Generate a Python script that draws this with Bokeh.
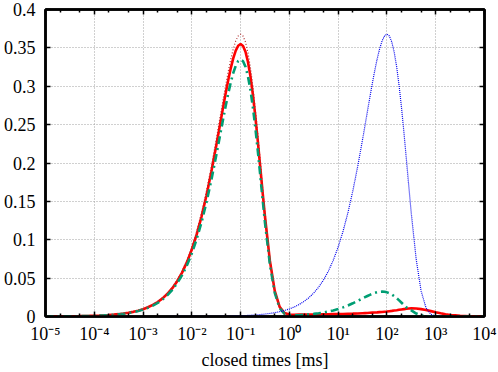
from bokeh.plotting import figure
from bokeh.models import FixedTicker, LogAxis, LinearAxis, ColumnDataSource, Range1d
from bokeh.embed import file_html
from bokeh.resources import INLINE

# log10 of closed time [ms], sampled every 0.1 decade
log_t = [round(-5.0 + 0.1 * i, 1) for i in range(91)]

# thin dotted dark red: fast component (tau ~ 0.1 ms)
dotted_fast = [
    0.00010, 0.00013, 0.00016, 0.00020, 0.00025, 0.00032, 0.00040, 0.00050, 0.00063, 0.00079,
    0.00100, 0.00126, 0.00158, 0.00199, 0.00251, 0.00315, 0.00397, 0.00499, 0.00627, 0.00788,
    0.00990, 0.01243, 0.01560, 0.01956, 0.02450, 0.03064, 0.03826, 0.04767, 0.05924, 0.07337,
    0.09048, 0.11100, 0.13525, 0.16343, 0.19540, 0.23050, 0.26737, 0.30362, 0.33573, 0.35896,
    0.36788, 0.35754, 0.32490, 0.27136, 0.20382, 0.13383, 0.07429, 0.03335, 0.01148, 0.00282,
    0.00045, 0.00004, 0.0, 0.0, 0.0, 0.0, 0.0, 0.0, 0.0, 0.0,
    0.0, 0.0, 0.0, 0.0, 0.0, 0.0, 0.0, 0.0, 0.0, 0.0,
    0.0, 0.0, 0.0, 0.0, 0.0, 0.0, 0.0, 0.0, 0.0, 0.0,
    0.0, 0.0, 0.0, 0.0, 0.0, 0.0, 0.0, 0.0, 0.0, 0.0,
    0.0,
]

# thin dotted blue: slow component (tau ~ 100 ms)
dotted_slow = [
    0.0, 0.0, 0.0, 0.0, 0.0, 0.0, 0.0, 0.0, 0.0, 0.0,
    0.0, 0.0, 0.0, 0.0, 0.0, 0.0, 0.0, 0.0, 0.0, 0.0,
    0.00001, 0.00001, 0.00002, 0.00002, 0.00003, 0.00003, 0.00004, 0.00005, 0.00006, 0.00008,
    0.00010, 0.00013, 0.00016, 0.00020, 0.00025, 0.00032, 0.00040, 0.00050, 0.00063, 0.00079,
    0.00100, 0.00126, 0.00158, 0.00199, 0.00251, 0.00315, 0.00397, 0.00499, 0.00627, 0.00788,
    0.00990, 0.01243, 0.01560, 0.01956, 0.02450, 0.03064, 0.03826, 0.04767, 0.05924, 0.07337,
    0.09048, 0.11100, 0.13525, 0.16343, 0.19540, 0.23050, 0.26737, 0.30362, 0.33573, 0.35896,
    0.36788, 0.35754, 0.32490, 0.27136, 0.20382, 0.13383, 0.07429, 0.03335, 0.01148, 0.00282,
    0.00045, 0.00004, 0.0, 0.0, 0.0, 0.0, 0.0, 0.0, 0.0, 0.0,
    0.0,
]

# thick red solid
red_solid = [
    0.00010, 0.00012, 0.00015, 0.00019, 0.00024, 0.00031, 0.00038, 0.00048, 0.00061, 0.00077,
    0.00096, 0.00121, 0.00153, 0.00192, 0.00242, 0.00304, 0.00383, 0.00481, 0.00605, 0.00761,
    0.00955, 0.01200, 0.01505, 0.01887, 0.02364, 0.02957, 0.03692, 0.04600, 0.05717, 0.07080,
    0.08732, 0.10712, 0.13052, 0.15771, 0.18856, 0.22243, 0.25801, 0.29299, 0.32398, 0.34640,
    0.35500, 0.34503, 0.31353, 0.26186, 0.19669, 0.12995, 0.07269, 0.03338, 0.01258, 0.00452,
    0.00250, 0.00230, 0.00240, 0.00250, 0.00260, 0.00270, 0.00280, 0.00290, 0.00300, 0.00310,
    0.00320, 0.00330, 0.00350, 0.00370, 0.00400, 0.00430, 0.00460, 0.00500, 0.00540, 0.00590,
    0.00650, 0.00730, 0.00820, 0.00920, 0.01010, 0.01060, 0.01040, 0.00960, 0.00840, 0.00700,
    0.00550, 0.00420, 0.00300, 0.00200, 0.00150, 0.00100, 0.00070, 0.00040, 0.00020, 0.00010,
    0.0,
]

# thick green dash-dot
green_dashdot = [
    0.00009, 0.00011, 0.00014, 0.00018, 0.00023, 0.00029, 0.00036, 0.00046, 0.00057, 0.00072,
    0.00091, 0.00114, 0.00144, 0.00181, 0.00228, 0.00287, 0.00361, 0.00454, 0.00571, 0.00717,
    0.00901, 0.01131, 0.01420, 0.01780, 0.02229, 0.02788, 0.03481, 0.04338, 0.05391, 0.06677,
    0.08234, 0.10101, 0.12308, 0.14872, 0.17781, 0.20976, 0.24331, 0.27629, 0.30551, 0.32665,
    0.33488, 0.32550, 0.29584, 0.24716, 0.18576, 0.12214, 0.06804, 0.03090, 0.01114, 0.00344,
    0.00150, 0.00141, 0.00172, 0.00216, 0.00270, 0.00337, 0.00419, 0.00521, 0.00646, 0.00796,
    0.00977, 0.01190, 0.01438, 0.01720, 0.02028, 0.02353, 0.02672, 0.02954, 0.03159, 0.03237,
    0.03146, 0.02859, 0.02388, 0.01794, 0.01178, 0.00800, 0.00380, 0.00150, 0.00050, 0.00010,
    0.0, 0.0, 0.0, 0.0, 0.0, 0.0, 0.0, 0.0, 0.0, 0.0,
    0.0,
]

# extra readings between samples, around the two tall peaks
log_t_extra = [-1.45, -1.35, -1.25, -1.15, -1.05, -0.95, -0.85, -0.75, -0.65, -0.55,
               1.55, 1.65, 1.75, 1.85, 1.95, 2.05, 2.15, 2.25, 2.35, 2.45]
dotted_fast_extra = [0.24884, 0.28576, 0.32047, 0.34878, 0.36554, 0.36535, 0.34398, 0.30042, 0.23862, 0.16827,
                     0.0, 0.0, 0.0, 0.0, 0.0, 0.0, 0.0, 0.0, 0.0, 0.0]
dotted_slow_extra = [0.00035, 0.00045, 0.00056, 0.00070, 0.00090, 0.00110, 0.00140, 0.00180, 0.00220, 0.00280,
                     0.24884, 0.28576, 0.32047, 0.34878, 0.36554, 0.36535, 0.34398, 0.30042, 0.23862, 0.16827]
red_solid_extra = [0.24013, 0.27576, 0.30925, 0.33657, 0.35275, 0.35256, 0.33194, 0.28991, 0.23027, 0.16238,
                   0.00445, 0.00480, 0.00520, 0.00565, 0.00620, 0.00690, 0.00775, 0.00870, 0.00965, 0.01040]
green_dashdot_extra = [0.22648, 0.26009, 0.29170, 0.31748, 0.33274, 0.33259, 0.31318, 0.27358, 0.21739, 0.15344,
                       0.02515, 0.02820, 0.03069, 0.03217, 0.03215, 0.03027, 0.02644, 0.02100, 0.01481, 0.00980]

x_decades = [1e-5, 1e-4, 1e-3, 1e-2, 1e-1, 1e0, 1e1, 1e2, 1e3, 1e4]
x_labels = ["10\u207b\u2075", "10\u207b\u2074", "10\u207b\u00b3", "10\u207b\u00b2", "10\u207b\u00b9",
            "10\u2070", "10\u00b9", "10\u00b2", "10\u00b3", "10\u2074"]
y_ticks = [0.0, 0.05, 0.1, 0.15, 0.2, 0.25, 0.3, 0.35, 0.4]
y_labels = ["0", "0.05", "0.1", "0.15", "0.2", "0.25", "0.3", "0.35", "0.4"]
x_title = "closed times [ms]"

rows = sorted(zip(log_t + log_t_extra,
                  dotted_fast + dotted_fast_extra,
                  dotted_slow + dotted_slow_extra,
                  red_solid + red_solid_extra,
                  green_dashdot + green_dashdot_extra))
src = ColumnDataSource(dict(
    t=[10 ** r[0] for r in rows],
    fast=[r[1] for r in rows],
    slow=[r[2] for r in rows],
    red=[r[3] for r in rows],
    green=[r[4] for r in rows],
))

FONT = "Liberation Serif"
FS = "18px"

p = figure(width=498, height=372, x_axis_type="log",
           x_range=Range1d(x_decades[0], x_decades[-1]), y_range=Range1d(y_ticks[0], y_ticks[-1]),
           output_backend="svg", toolbar_location=None,
           min_border_left=43, min_border_right=14, min_border_top=9, min_border_bottom=56)

p.background_fill_color = "white"
p.border_fill_color = "white"
p.outline_line_color = "black"
p.outline_line_width = 2.5

minor_x = [d * m for d in x_decades[:-1] for m in (2, 5)]
xt = FixedTicker(ticks=x_decades, minor_ticks=minor_x)
yt = FixedTicker(ticks=y_ticks, minor_ticks=[])

def style_axis(ax, show_labels):
    ax.axis_line_color = "black"
    ax.axis_line_width = 2.5
    ax.major_tick_in = 5
    ax.major_tick_out = 0
    ax.major_tick_line_width = 1.5
    ax.minor_tick_in = 3
    ax.minor_tick_out = 0
    ax.minor_tick_line_width = 1.5
    ax.major_label_text_font = FONT
    ax.major_label_text_color = "black"
    ax.major_label_text_font_size = FS if show_labels else "1px"
    if not show_labels:
        ax.major_label_text_alpha = 0
        ax.major_label_standoff = 0
    ax.axis_label_text_font = FONT
    ax.axis_label_text_font_size = FS
    ax.axis_label_text_font_style = "normal"
    ax.axis_label_text_color = "black"

xa = p.xaxis[0]
xa.ticker = xt
xa.major_label_overrides = {v: s for v, s in zip(x_decades, x_labels)}
xa.axis_label = x_title
xa.major_label_standoff = 7
xa.axis_label_standoff = 3
style_axis(xa, True)

ya = p.yaxis[0]
ya.ticker = yt
ya.major_label_overrides = {v: s for v, s in zip(y_ticks, y_labels)}
ya.major_label_standoff = 10
style_axis(ya, True)
ya.minor_tick_line_color = None

top = LogAxis(ticker=xt)
style_axis(top, False)
p.add_layout(top, "above")

right = LinearAxis(ticker=yt)
style_axis(right, False)
right.minor_tick_line_color = None
p.add_layout(right, "right")

for g in (p.xgrid[0], p.ygrid[0]):
    g.grid_line_color = "#a0a0a0"
    g.grid_line_dash = "1 2"
    g.grid_line_width = 1
p.xgrid[0].ticker = xt
p.ygrid[0].ticker = yt

p.line("t", "red", source=src, line_color="#ff0000", line_width=2.6)
p.line("t", "green", source=src, line_color="#009e73", line_width=2.6, line_dash="8 4 2 4")
p.line("t", "fast", source=src, line_color="#b03030", line_width=1.2, line_dash="1 2")
p.line("t", "slow", source=src, line_color="#0000ee", line_width=1.2, line_dash="1 1")

open("out.html", "w").write(file_html(p, INLINE))
